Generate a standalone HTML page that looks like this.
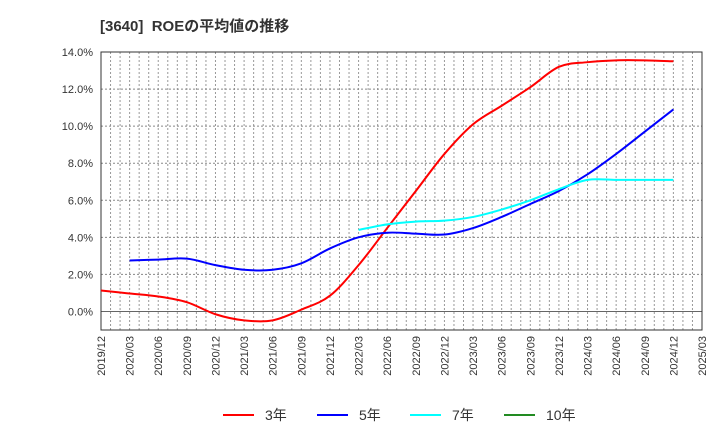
<!DOCTYPE html>
<html><head><meta charset="utf-8"><style>
body{margin:0;background:#fff;}
text{font-family:"Liberation Sans","Noto Sans CJK JP",sans-serif;}
</style></head><body>
<svg id="c" width="720" height="440" xmlns="http://www.w3.org/2000/svg"></svg>
<script>
const xLabels=["2019/12","2020/03","2020/06","2020/09","2020/12","2021/03","2021/06","2021/09","2021/12","2022/03","2022/06","2022/09","2022/12","2023/03","2023/06","2023/09","2023/12","2024/03","2024/06","2024/09","2024/12","2025/03"];
const yTicks=[0,2,4,6,8,10,12,14];
const roe3=[1.13,0.97,0.81,0.5,-0.15,-0.48,-0.48,0.1,0.85,2.5,4.5,6.5,8.5,10.1,11.1,12.1,13.2,13.45,13.55,13.55,13.5];
const roe5=[null,2.75,2.8,2.85,2.5,2.25,2.25,2.6,3.4,4.0,4.25,4.2,4.15,4.5,5.1,5.8,6.5,7.4,8.5,9.7,10.9];
const roe7=[null,null,null,null,null,null,null,null,null,4.4,4.7,4.85,4.9,5.1,5.5,6.0,6.6,7.1,7.1,7.1,7.1];
const roe10=[];
const NS="http://www.w3.org/2000/svg";
const svg=document.getElementById('c');
const L=101,R=702,T=52,B=330,yMin=-1,yMax=14;
const xs=i=>L+(R-L)*i/(xLabels.length-1);
const ys=v=>B-(B-T)*(v-yMin)/(yMax-yMin);
function mk(t,a,p){const e=document.createElementNS(NS,t);for(const k in a)e.setAttribute(k,a[k]);(p||svg).appendChild(e);return e;}
const bg=mk('rect',{x:L,y:T,width:R-L,height:B-T,fill:'#fff',stroke:'none'});


// monthly vertical grid
for(let m=1;m<(xLabels.length-1)*3;m++){const x=L+(R-L)*m/((xLabels.length-1)*3);
const g=mk('line',{x1:x,x2:x,y1:T,y2:B,stroke:'#999','stroke-dasharray':'2,2','stroke-width':1});

}
yTicks.forEach(v=>{const y=ys(v);
const g=mk('line',{x1:L,x2:R,y1:y,y2:y,stroke:v===0?'#666':'#888','stroke-dasharray':v===0?'none':'2,2','stroke-width':1});


const t=mk('text',{x:L-8,y:y+4,'text-anchor':'end','font-size':11,fill:'#333'});t.textContent=v.toFixed(1)+'%';

});
const fr=mk('rect',{x:L,y:T,width:R-L,height:B-T,fill:'none',stroke:'#333','stroke-width':1});


xLabels.forEach((s,i)=>{const x=xs(i);
const t=mk('text',{x:x+4,y:B+6,'text-anchor':'end','font-size':11,fill:'#333',transform:`rotate(-90 ${x+4} ${B+6})`});t.textContent=s;

});
function path(data,color,name){const pts=[];data.forEach((v,i)=>{if(v!==null&&v!==undefined)pts.push([xs(i),ys(v)]);});
if(pts.length<2)return;let d=`M${pts[0][0]},${pts[0][1]}`;
for(let i=0;i<pts.length-1;i++){const p0=pts[i-1]||pts[i],p1=pts[i],p2=pts[i+1],p3=pts[i+2]||p2;
const c1=[p1[0]+(p2[0]-p0[0])/6,p1[1]+(p2[1]-p0[1])/6],c2=[p2[0]-(p3[0]-p1[0])/6,p2[1]-(p3[1]-p1[1])/6];
d+=`C${c1[0]},${c1[1]} ${c2[0]},${c2[1]} ${p2[0]},${p2[1]}`;}
const p=mk('path',{d:d,fill:'none',stroke:color,'stroke-width':2});

}
path(roe3,'#ff0000','series-3y');
path(roe5,'#0000ff','series-5y');
path(roe7,'#00ffff','series-7y');
path(roe10,'#228b22','series-10y');
const leg=[['3年','#ff0000',223],['5年','#0000ff',317],['7年','#00ffff',410],['10年','#228b22',504]];
leg.forEach(([s,c,x])=>{const g=mk('g',{});


mk('line',{x1:x,x2:x+31,y1:415,y2:415,stroke:c,'stroke-width':2},g);
const t=mk('text',{x:x+42,y:420,'font-size':14,fill:'#333'},g);t.textContent=s;});
const ti=mk('text',{x:100,y:31,'font-size':15,'font-weight':'bold',fill:'#333'});ti.textContent='[3640]  ROEの平均値の推移';


ti.setAttribute('xml:space','preserve');ti.style.whiteSpace='pre';
</script>
</body></html>
